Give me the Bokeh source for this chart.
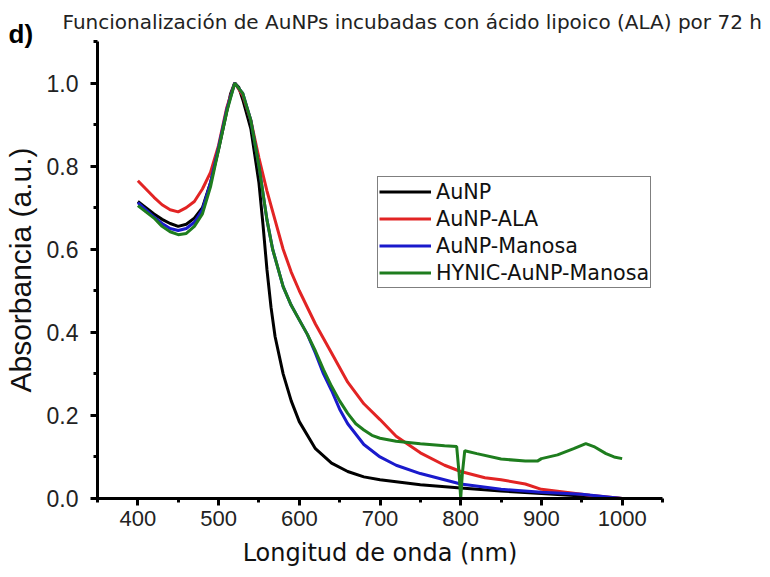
from bokeh.plotting import figure
from bokeh.models import Label, Legend, LegendItem, SingleIntervalTicker, NumeralTickFormatter, Range1d
from bokeh.embed import file_html
from bokeh.resources import INLINE

# ---- data ----
wl_black = [400, 410, 420, 430, 440, 450, 460, 470, 480, 490, 500, 510, 515, 520, 525, 530, 540, 550, 555, 560,
            565, 570, 580, 590, 600, 620, 640, 660, 680, 700, 750, 800, 850, 900, 950, 1000]
abs_black = [0.715, 0.70, 0.685, 0.672, 0.662, 0.655, 0.66, 0.675, 0.70, 0.76, 0.84, 0.93, 0.975, 1.0, 0.99, 0.96,
             0.89, 0.76, 0.66, 0.55, 0.46, 0.39, 0.30, 0.235, 0.185, 0.12, 0.085, 0.065, 0.052, 0.045, 0.033,
             0.025, 0.018, 0.012, 0.006, 0.0]

wl_red = [400, 410, 420, 430, 440, 450, 460, 470, 480, 490, 500, 510, 520, 530, 540, 550, 560, 570, 580, 590, 600,
          620, 640, 660, 680, 700, 720, 750, 780, 800, 830, 850, 880, 900, 930, 960, 1000]
abs_red = [0.765, 0.745, 0.725, 0.707, 0.695, 0.69, 0.70, 0.715, 0.745, 0.785, 0.85, 0.94, 1.0, 0.97, 0.91, 0.82,
           0.74, 0.67, 0.60, 0.545, 0.50, 0.42, 0.35, 0.28, 0.228, 0.19, 0.15, 0.11, 0.08, 0.065, 0.05, 0.045,
           0.035, 0.022, 0.015, 0.008, 0.0]

wl_blue = [400, 410, 420, 430, 440, 450, 460, 470, 480, 490, 500, 510, 520, 530, 540, 550, 560, 567, 580, 590, 600,
           610, 620, 630, 640, 650, 660, 680, 700, 720, 750, 800, 850, 900, 950, 1000]
abs_blue = [0.712, 0.695, 0.678, 0.662, 0.65, 0.645, 0.65, 0.665, 0.695, 0.76, 0.845, 0.935, 1.0, 0.975, 0.91,
            0.80, 0.67, 0.60, 0.51, 0.465, 0.43, 0.395, 0.35, 0.30, 0.26, 0.215, 0.18, 0.13, 0.10, 0.08, 0.06,
            0.035, 0.022, 0.015, 0.01, 0.0]

wl_green = [400, 410, 420, 430, 440, 450, 460, 470, 480, 490, 500, 510, 520, 530, 540, 550, 560, 567, 580, 590, 600,
            610, 620, 630, 640, 650, 660, 670, 680, 690, 700, 720, 750, 780, 795, 798, 800, 802, 805, 820, 850, 880,
            895, 900, 920, 940, 955, 965, 980, 990, 1000]
abs_green = [0.705, 0.69, 0.675, 0.655, 0.642, 0.635, 0.638, 0.655, 0.685, 0.75, 0.84, 0.93, 1.0, 0.975, 0.91,
             0.80, 0.67, 0.60, 0.51, 0.465, 0.43, 0.395, 0.355, 0.31, 0.27, 0.235, 0.205, 0.18, 0.165, 0.152,
             0.145, 0.138, 0.132, 0.127, 0.125, 0.06, 0.0, 0.06, 0.115, 0.108, 0.095, 0.09, 0.09, 0.096, 0.105,
             0.12, 0.132, 0.125, 0.108, 0.10, 0.096]

series_names = ["AuNP", "AuNP-ALA", "AuNP-Manosa", "HYNIC-AuNP-Manosa"]
series_colors = ["#000000", "#e22424", "#1a1acc", "#1e7d1e"]

title_text = "Funcionalización de AuNPs incubadas con ácido lipoico (ALA) por 72 h"
panel_tag = "d)"
x_label = "Longitud de onda (nm)"
y_label = "Absorbancia (a.u.)"

# ---- figure ----
p = figure(width=770, height=577, output_backend="svg", toolbar_location=None,
           x_range=Range1d(350, 1050), y_range=Range1d(0, 1.1),
           min_border_left=97, min_border_right=108, min_border_top=40, min_border_bottom=79)
p.outline_line_color = None
p.grid.visible = False
p.background_fill_color = "white"
p.border_fill_color = "white"

renderers = []
for xs, ys, c in zip([wl_black, wl_red, wl_blue, wl_green],
                     [abs_black, abs_red, abs_blue, abs_green], series_colors):
    r = p.line(xs, ys, line_color=c, line_width=3)
    renderers.append(r)

# axes
p.xaxis.ticker = SingleIntervalTicker(interval=100, num_minor_ticks=2)
p.yaxis.ticker = SingleIntervalTicker(interval=0.2, num_minor_ticks=2)
p.yaxis.formatter = NumeralTickFormatter(format="0.0")
for ax in (p.xaxis, p.yaxis):
    ax.axis_line_width = 3
    ax.axis_line_color = "black"
    ax.major_tick_line_width = 3
    ax.minor_tick_line_width = 3
    ax.major_tick_in = 0
    ax.major_tick_out = 7
    ax.minor_tick_in = 0
    ax.minor_tick_out = 4
    ax.major_label_text_font = "Liberation Sans"
    ax.major_label_text_color = "#222222"
    ax.axis_label_text_font_style = "normal"
    ax.axis_label_text_color = "#111111"

p.xaxis.major_label_text_font_size = "22px"
p.xaxis.major_label_standoff = 5
p.xaxis.axis_label = x_label
p.xaxis.axis_label_text_font = "DejaVu Sans"
p.xaxis.axis_label_text_font_size = "24px"
p.xaxis.axis_label_standoff = 10

p.yaxis.major_label_text_font_size = "23px"
p.yaxis.major_label_standoff = 12
p.yaxis.axis_label = y_label
p.yaxis.axis_label_text_font = "Liberation Sans"
p.yaxis.axis_label_text_font_size = "30px"
p.yaxis.axis_label_standoff = 7

# legend
items = [LegendItem(label=n, renderers=[r]) for n, r in zip(series_names, renderers)]
legend = Legend(items=items, location=(280, 210), border_line_color="black", border_line_width=1,
                padding=1, spacing=0, margin=0, label_height=27, glyph_height=27, glyph_width=52,
                label_standoff=5, label_text_font="DejaVu Sans", label_text_font_size="20.7px",
                label_text_color="#111111", background_fill_alpha=1.0)
p.add_layout(legend)

# main title
p.title.text = title_text
p.title.text_font = "DejaVu Sans"
p.title.text_font_size = "20px"
p.title.text_font_style = "normal"
p.title.text_color = "#222222"
p.title.align = "left"
p.title.offset = -35
p.title.standoff = 15

# panel tag (placed in the wide right side panel so it is not clipped and does not move the frame)
p.add_layout(Label(x=8, y=33, x_units="canvas", y_units="canvas", text=panel_tag,
                   text_font="Liberation Sans", text_font_style="bold", text_font_size="26px",
                   text_color="black", text_baseline="alphabetic"), "right")

open("out.html", "w").write(file_html(p, INLINE))
